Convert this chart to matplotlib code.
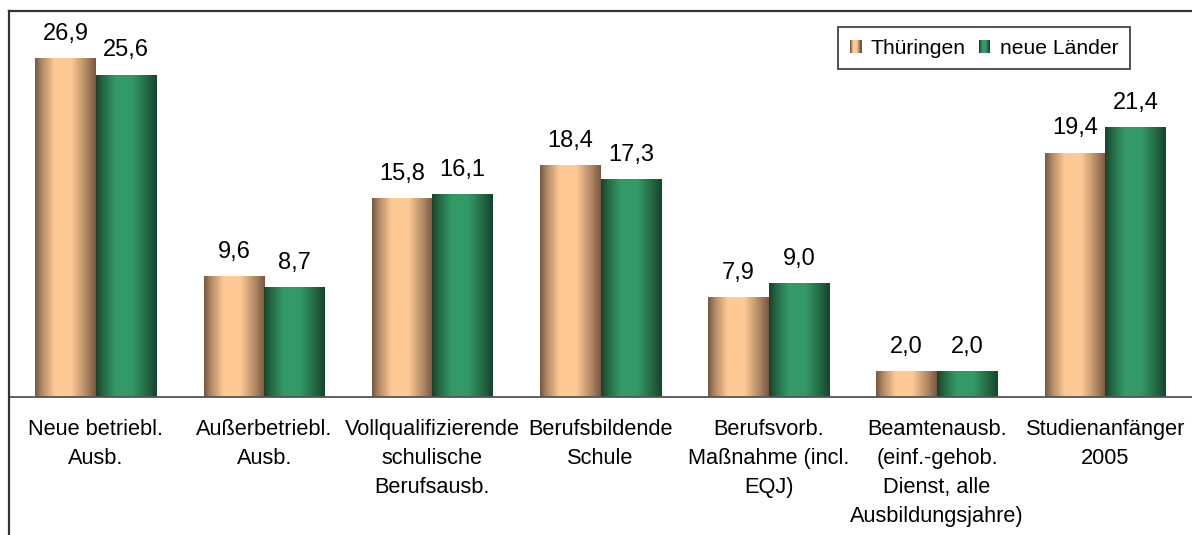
import numpy as np
import matplotlib
matplotlib.use("Agg")
import matplotlib.pyplot as plt
from matplotlib.legend_handler import HandlerBase
from matplotlib.patches import Rectangle, Patch
from matplotlib.lines import Line2D
from matplotlib.colors import to_rgb

plt.rcParams['font.family'] = ['Liberation Sans', 'DejaVu Sans']

categories = ["Neue betriebl.\nAusb.", "Außerbetriebl.\nAusb.",
              "Vollqualifizierende\nschulische\nBerufsausb.", "Berufsbildende\nSchule",
              "Berufsvorb.\nMaßnahme (incl.\nEQJ)",
              "Beamtenausb.\n(einf.-gehob.\nDienst, alle\nAusbildungsjahre)",
              "Studienanfänger\n2005"]
thueringen = [26.9, 9.6, 15.8, 18.4, 7.9, 2.0, 19.4]
neue_laender = [25.6, 8.7, 16.1, 17.3, 9.0, 2.0, 21.4]
series_names = ["Thüringen", "neue Länder"]

# gradient colours (edge, centre)
grad_cols = [("#765840", "#ffc995"), ("#17432b", "#339966")]

W, H = 1192, 535
fig = plt.figure(figsize=(W / 100, H / 100), dpi=100)
ax = fig.add_axes([10 / W, (H - 397) / H, (W - 10) / W, 386 / H])

STOPS_T = [0, 0.12, 0.32, 0.6, 0.85, 1.0]
STOPS_V = [0.0, 0.45, 1.0, 1.0, 0.4, 0.0]

def grad_image(edge, centre, n=200):
    e = np.array(to_rgb(edge)); c = np.array(to_rgb(centre))
    p = np.interp(np.linspace(0, 1, n), STOPS_T, STOPS_V)[:, None]
    return (e + (c - e) * p)[None, :, :]

x = np.arange(len(categories))
bw = 0.36
bars1 = ax.bar(x - bw / 2, thueringen, bw, color='none', edgecolor='none')
bars2 = ax.bar(x + bw / 2, neue_laender, bw, color='none', edgecolor='none')

for bars, (edge, centre), vals in [(bars1, grad_cols[0], thueringen), (bars2, grad_cols[1], neue_laender)]:
    img = grad_image(edge, centre)
    for b, v in zip(bars, vals):
        x0 = b.get_x(); x1 = x0 + b.get_width()
        ax.imshow(img, extent=[x0, x1, 0, b.get_height()], aspect='auto', zorder=2, interpolation='bilinear')
        ax.annotate(f"{v:.1f}".replace('.', ','), (x0 + b.get_width() / 2, b.get_height()),
                    xytext=(0, 13.5), textcoords='offset points', ha='center', va='baseline',
                    fontsize=17, color='black')

ax.set_xlim(-0.511, 6.516)
ax.set_ylim(0, 30.7)
ax.set_xticks(x)
ax.set_xticklabels(categories, fontsize=15.7, linespacing=1.5, va='top')
ax.tick_params(axis='x', length=0, pad=15.5)
ax.set_yticks([])
for s in ['top', 'right', 'left']:
    ax.spines[s].set_visible(False)
ax.spines['bottom'].set_color('#555555')
ax.spines['bottom'].set_linewidth(1.3)

# outer frame lines (top and left)
fig.add_artist(Line2D([9 / W, 1.0], [(H - 11) / H, (H - 11) / H], transform=fig.transFigure,
                      color='#333333', linewidth=1.6))
fig.add_artist(Line2D([9 / W, 9 / W], [0, (H - 11) / H], transform=fig.transFigure,
                      color='#333333', linewidth=1.6))

class GradHandler(HandlerBase):
    def __init__(self, edge, centre):
        super().__init__()
        self.edge, self.centre = edge, centre
    def create_artists(self, legend, orig_handle, xdescent, ydescent, width, height, fontsize, trans):
        n = 10
        e = np.array(to_rgb(self.edge)); c = np.array(to_rgb(self.centre))
        p = np.interp(np.linspace(0, 1, n), STOPS_T, STOPS_V)
        arts = []
        for i in range(n):
            col = e + (c - e) * p[i]
            arts.append(Rectangle((-xdescent + i * width / n, -ydescent), width / n + 0.05, height,
                                  facecolor=col, edgecolor='none', transform=trans))
        return arts

h1 = Patch(label=series_names[0]); h2 = Patch(label=series_names[1])
leg = ax.legend([h1, h2], series_names, ncol=2, loc='upper right',
                bbox_to_anchor=(1130 / W, 1 - 27 / H), bbox_transform=fig.transFigure,
                borderaxespad=0, fontsize=15.2, frameon=True, fancybox=False,
                handlelength=0.55, handleheight=0.55, handletextpad=0.45, columnspacing=0.6,
                borderpad=0.55,
                handler_map={h1: GradHandler(*grad_cols[0]), h2: GradHandler(*grad_cols[1])})
leg.get_frame().set_edgecolor('#333333')
leg.get_frame().set_linewidth(1.2)
leg.get_frame().set_alpha(1)

fig.savefig("out.png", dpi=100)
